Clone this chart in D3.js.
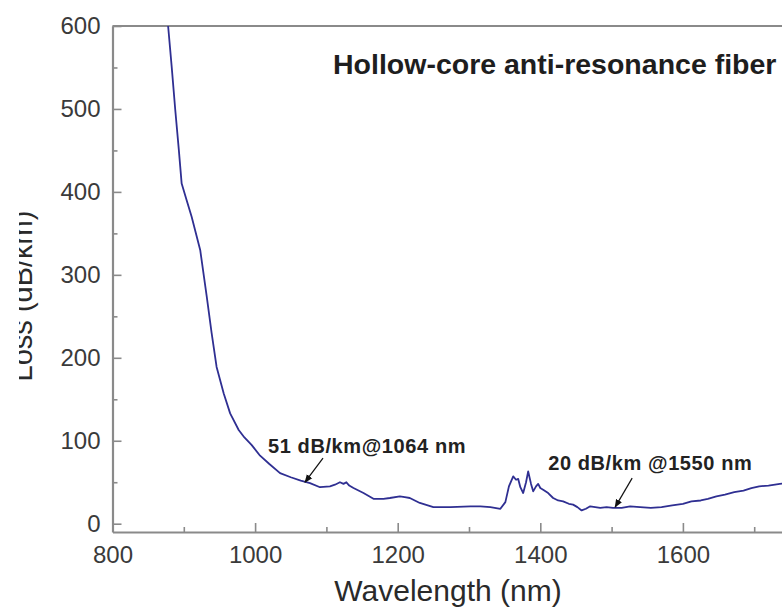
<!DOCTYPE html>
<html>
<head>
<meta charset="utf-8">
<script src="https://cdn.jsdelivr.net/npm/d3@7/dist/d3.min.js"></script>
<style>
  body { margin: 0; background: #fff; }
  svg { display: block; font-family: "Liberation Sans", Arial, sans-serif; }
</style>
</head>
<body>
<svg id="chart" width="782" height="612"></svg>
<script>
// loss spectrum
var wavelength = [
  878, 883, 888, 893, 897, 904, 911, 923, 932, 939,
  946, 956, 965, 977, 985, 995, 1007, 1020, 1035, 1050,
  1064, 1077, 1091, 1105, 1112, 1119, 1124, 1128, 1132, 1138,
  1152, 1166, 1180, 1189, 1203, 1210, 1217, 1231, 1250, 1274,
  1302, 1316, 1330, 1344, 1351, 1356, 1362, 1366, 1369, 1372,
  1376, 1380, 1383, 1387, 1390, 1394, 1397, 1400, 1404, 1411,
  1418, 1425, 1432, 1440, 1446, 1452, 1458, 1464, 1470, 1477,
  1484, 1493, 1502, 1514, 1526, 1540, 1555, 1570, 1585, 1600,
  1612, 1625, 1635, 1647, 1659, 1672, 1685, 1696, 1707, 1720,
  1736, 1748, 1760
];
var loss = [
  600, 551, 499, 451, 410, 390, 370, 330, 275, 230,
  189, 157, 133, 113, 104, 95, 82, 72, 61, 56,
  52, 49, 44, 45, 47, 50, 48, 50, 46, 43,
  37, 30, 30, 31, 33, 32, 31, 25, 20, 20,
  21, 21, 20, 18, 26, 45, 57, 53, 54, 44,
  37, 50, 63, 48, 39, 45, 48, 43, 41, 37,
  31, 28, 27, 24, 23, 20, 16, 18, 21, 20,
  19, 20, 19, 19, 21, 20, 19, 20, 22, 24,
  27, 28, 30, 33, 35, 38, 40, 43, 45, 46,
  48, 49, 50
];

var xTicks = [800, 1000, 1200, 1400, 1600];
var xMinorTicks = [900, 1100, 1300, 1500, 1700];
var yTicks = [0, 100, 200, 300, 400, 500, 600];
var yMinorTicks = [50, 150, 250, 350, 450, 550];

var titleText = "Hollow-core anti-resonance fiber";
var xLabel = "Wavelength (nm)";
var yLabel = "Loss (dB/km)";
var noteText = ["51 dB/km@1064 nm", "20 dB/km @1550 nm"];
// where the arrows point, in data units
var noteAt = [[1070, 50], [1505, 20]];

var data = wavelength.map((w, i) => ({ w: w, v: loss[i] }));

var svg = d3.select("#chart");
var axisColor = "#8a8a8a";
var lineColor = "#2f2f92";

var xScale = d3.scaleLinear().domain([800, 1800]).range([112.5, 825.5]);
var yScale = d3.scaleLinear().domain([-10, 600]).range([532, 26]);

// minor ticks first, major axes on top
svg.append("g")
    .attr("transform", "translate(0,532)")
    .call(d3.axisBottom(xScale).tickValues(xMinorTicks).tickSize(-5).tickSizeOuter(0).tickFormat(""))
    .call(g => g.select(".domain").remove());
svg.append("g")
    .attr("transform", "translate(112.5,0)")
    .call(d3.axisLeft(yScale).tickValues(yMinorTicks).tickSize(-5).tickSizeOuter(0).tickFormat(""))
    .call(g => g.select(".domain").remove());

var xAxis = svg.append("g")
    .attr("transform", "translate(0,532)")
    .call(d3.axisBottom(xScale).tickValues(xTicks).tickSize(-9).tickSizeOuter(0).tickPadding(14).tickFormat(d3.format("d")));
xAxis.selectAll("text").attr("font-size", 24).attr("fill", "#3a3a3a").attr("dy", "0.71em");

var yAxis = svg.append("g")
    .attr("transform", "translate(112.5,0)")
    .call(d3.axisLeft(yScale).tickValues(yTicks).tickSize(-9).tickSizeOuter(0).tickPadding(12));
yAxis.selectAll("text").attr("font-size", 24).attr("fill", "#3a3a3a");

svg.selectAll(".tick line").attr("stroke", axisColor).attr("stroke-width", 1.6);
svg.selectAll(".domain").attr("stroke", axisColor).attr("stroke-width", 2.2);

// frame top and right
svg.append("path")
    .attr("d", `M112.5,26H${xScale(1800)}V532`)
    .attr("fill", "none")
    .attr("stroke", axisColor)
    .attr("stroke-width", 2.2);

// the curve
var line = d3.line().x(d => xScale(d.w)).y(d => yScale(d.v));
svg.append("path")
    .datum(data)
    .attr("d", line)
    .attr("fill", "none")
    .attr("stroke", lineColor)
    .attr("stroke-width", 1.8)
    .attr("stroke-linejoin", "round");

// title inside plot
svg.append("text")
    .attr("x", 333)
    .attr("y", 74)
    .attr("font-size", 28.5)
    .attr("font-weight", "bold")
    .attr("fill", "#1e1e1e")
    .text(titleText);

// annotations with arrows
svg.append("defs").append("marker")
    .attr("id", "head")
    .attr("viewBox", "0 0 10 10")
    .attr("refX", 9).attr("refY", 5)
    .attr("markerWidth", 7).attr("markerHeight", 7)
    .attr("orient", "auto")
  .append("path")
    .attr("d", "M0,1L10,5L0,9Z")
    .attr("fill", "#111");

// text dx, dy, arrow tail dx, dy relative to the arrow tip
var noteOffsets = [[-37, -29, 18, -24], [-67, -37, 17, -29]];
noteText.forEach((t, i) => {
  var tx = xScale(noteAt[i][0]), ty = yScale(noteAt[i][1]);
  var o = noteOffsets[i];
  svg.append("text")
      .attr("x", tx + o[0])
      .attr("y", ty + o[1])
      .attr("font-size", 20)
      .attr("font-weight", "bold")
      .attr("letter-spacing", 0.6)
      .attr("fill", "#222")
      .text(t);
  svg.append("line")
      .attr("x1", tx + o[2]).attr("y1", ty + o[3])
      .attr("x2", tx).attr("y2", ty)
      .attr("stroke", "#111")
      .attr("stroke-width", 1.2)
      .attr("marker-end", "url(#head)");
});

// axis titles
svg.append("text")
    .attr("x", 448)
    .attr("y", 601)
    .attr("text-anchor", "middle")
    .attr("font-size", 30)
    .attr("fill", "#2a2a2a")
    .text(xLabel);

// the y title is cut at the left edge of the picture
svg.append("clipPath").attr("id", "ycut")
  .append("rect").attr("x", 19).attr("y", 0).attr("width", 60).attr("height", 612);
svg.append("g").attr("clip-path", "url(#ycut)")
  .append("text")
    .attr("transform", "translate(32,296) rotate(-90)")
    .attr("text-anchor", "middle")
    .attr("font-size", 29)
    .attr("fill", "#2a2a2a")
    .text(yLabel);
</script>
</body>
</html>
